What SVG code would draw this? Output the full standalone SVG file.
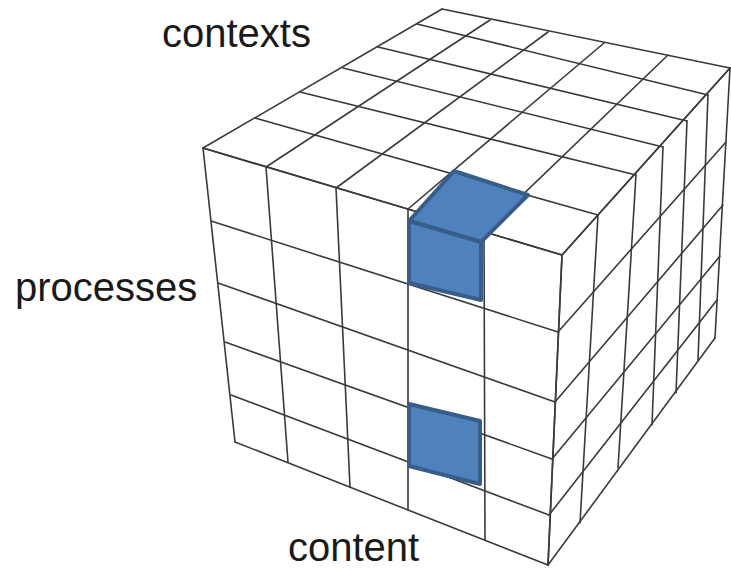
<svg xmlns="http://www.w3.org/2000/svg" width="731" height="570" viewBox="0 0 731 570">
<style>
.g{stroke:#3a3a3a;stroke-width:1.6;fill:none;stroke-linecap:round}
.hl{fill:#4f81bd;stroke:#385d8a;stroke-width:4;stroke-linejoin:round}
.lbl{font-family:"Liberation Sans",Arial,Helvetica,sans-serif;font-size:40px;fill:#1a1a1a}
</style>
<rect width="731" height="570" fill="#ffffff"/>
<g id="top-face" class="g">
<path d="M203,148L562,255M255,118L598,215M300,92L636,175M343,68L663,147M378,47L687,121M417,24L708,95M442,9L730,68"/>
<path d="M203,148L442,9M266,167L490,20M336,188L548,32M408,209L604,43M484,232L668,55M562,255L730,68"/>
</g>
<g id="front-face" class="g">
<path d="M203,148L235,442M266,167L288,462M336,188L350,487M408,209L408,510M484,232L485,540M562,255L548,565"/>
<path d="M203,148L562,255M211,221L558,332M218,283L555,402M225,342L552,459M231,395L549,515M235,442L548,565"/>
</g>
<g id="right-face" class="g">
<path d="M562,255L548,565M598,215L580,523M636,175L618,468M663,147L652,425M687,121L676,393M708,95L698,360M730,68L715,338"/>
<path d="M562,255L730,68M558,332L726,142M555,402L723,205M552,459L720,256M549,515L717,300M548,565L715,338"/>
</g>
<g id="highlight-top">
<polygon class="hl" points="409,221 454,171 528,195 481,242"/>
<polygon class="hl" points="409,221 481,242 481,300 409,283"/>
</g>
<g id="highlight-bottom">
<polygon class="hl" points="409,404 480,421 480,484 409,466"/>
</g>
<g id="labels">
<text class="lbl" x="162" y="47">contexts</text>
<text class="lbl" x="15" y="301">processes</text>
<text class="lbl" x="288" y="561">content</text>
</g>
</svg>
